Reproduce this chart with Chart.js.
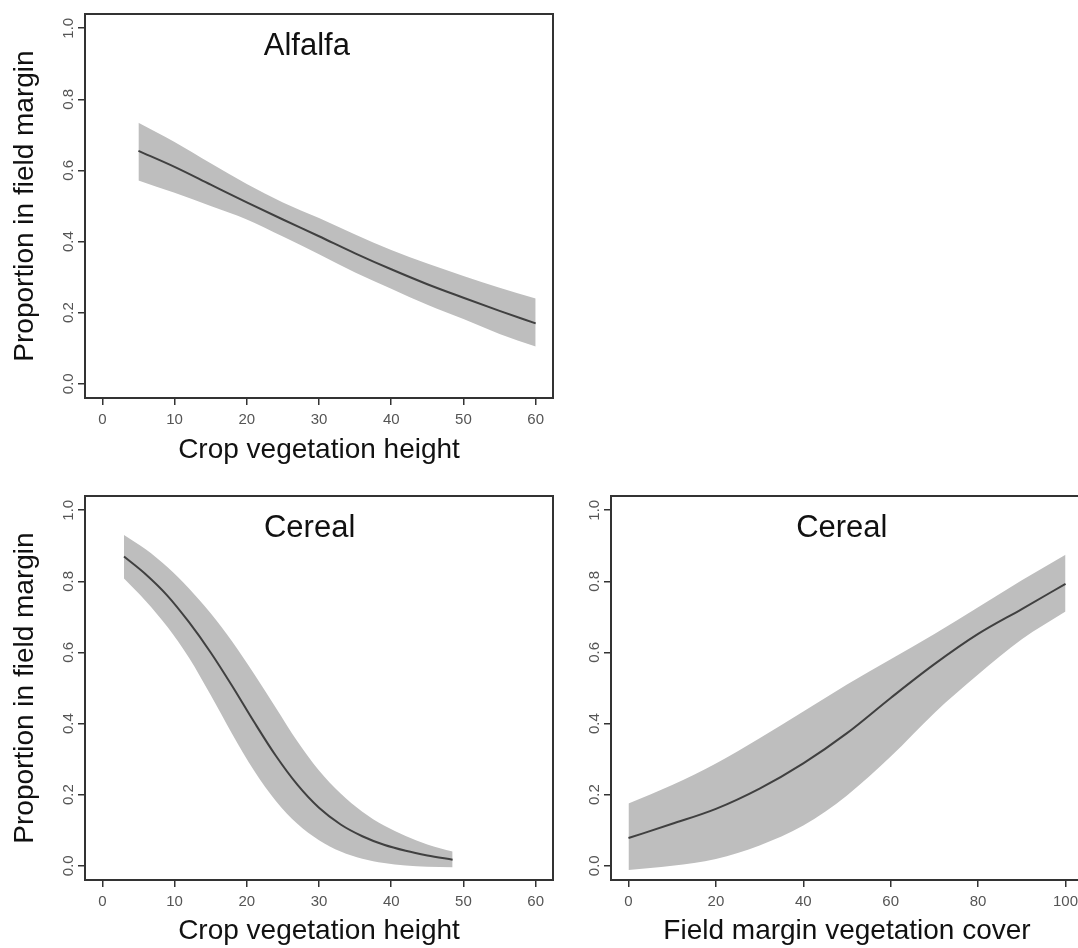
<!DOCTYPE html>
<html>
<head>
<meta charset="utf-8">
<script src="https://cdn.jsdelivr.net/npm/chart.js@4.4.1/dist/chart.umd.min.js"></script>
<style>
  html, body { margin: 0; padding: 0; background: #fff; overflow: hidden; }
  body { width: 1078px; height: 948px; position: relative; }
  canvas { position: absolute; }
</style>
</head>
<body>
<canvas id="alfalfaHeight" width="570" height="475" style="left:0;top:0;"></canvas>
<canvas id="cerealHeight" width="570" height="466" style="left:0;top:482px;"></canvas>
<canvas id="cerealCover" width="540" height="466" style="left:560px;top:482px;"></canvas>
<script>
// Alfalfa: proportion in field margin vs crop vegetation height
const alfalfaX     = [5, 10, 15, 20, 25, 30, 35, 40, 45, 50, 55, 60];
const alfalfaFit   = [0.655, 0.61, 0.56, 0.51, 0.462, 0.415, 0.367, 0.322, 0.28, 0.242, 0.205, 0.17];
const alfalfaUpper = [0.734, 0.68, 0.62, 0.562, 0.51, 0.466, 0.42, 0.376, 0.338, 0.303, 0.27, 0.24];
const alfalfaLower = [0.572, 0.537, 0.5, 0.462, 0.414, 0.364, 0.313, 0.267, 0.222, 0.182, 0.14, 0.105];

// Cereal: proportion in field margin vs crop vegetation height
const cerealX     = [3, 6, 9, 12, 15, 18, 21, 24, 27, 30, 33, 36, 39, 42, 45, 48.5];
const cerealFit   = [0.87, 0.82, 0.76, 0.685, 0.6, 0.505, 0.405, 0.31, 0.228, 0.163, 0.116, 0.083, 0.059, 0.042, 0.029, 0.017];
const cerealUpper = [0.93, 0.89, 0.84, 0.78, 0.71, 0.63, 0.54, 0.445, 0.35, 0.268, 0.203, 0.152, 0.113, 0.084, 0.06, 0.04];
const cerealLower = [0.808, 0.745, 0.672, 0.585, 0.48, 0.37, 0.268, 0.183, 0.118, 0.072, 0.04, 0.02, 0.008, 0.001, -0.003, -0.004];

// Cereal: proportion in field margin vs field margin vegetation cover
const coverX     = [0, 10, 20, 30, 40, 50, 60, 70, 80, 90, 100];
const coverFit   = [0.078, 0.118, 0.16, 0.217, 0.288, 0.373, 0.472, 0.567, 0.652, 0.722, 0.793];
const coverUpper = [0.175, 0.227, 0.288, 0.359, 0.434, 0.51, 0.581, 0.652, 0.727, 0.803, 0.875];
const coverLower = [-0.012, 0.0, 0.019, 0.057, 0.113, 0.198, 0.307, 0.43, 0.538, 0.637, 0.715];

// tick labels
const heightTicks = [0, 10, 20, 30, 40, 50, 60];
const coverTicks = [0, 20, 40, 60, 80, 100];
const proportionTicks = [0, 0.2, 0.4, 0.6, 0.8, 1.0];

Chart.defaults.font.family = "'Liberation Sans', Arial, sans-serif";

const toPoints = (xs, ys) => xs.map((x, i) => ({ x: x, y: ys[i] }));

function makePanel(id, cfg) {
    const ctx = document.getElementById(id).getContext('2d');

    // frame around the plot region plus the panel label inside it
    const framePlugin = {
        id: 'frame_' + id,
        afterDatasetsDraw(chart) {
            const a = chart.chartArea;
            const c = chart.ctx;
            c.save();
            c.strokeStyle = '#333';
            c.lineWidth = 2;
            c.strokeRect(a.left, a.top, a.right - a.left, a.bottom - a.top);
            c.fillStyle = '#111';
            c.font = "31px 'Liberation Sans', Arial, sans-serif";
            c.textAlign = 'center';
            c.textBaseline = 'alphabetic';
            c.fillText(cfg.label, a.left + cfg.labelPos * (a.right - a.left), a.top + 41);
            c.restore();
        }
    };

    const axisGrid = {
        drawOnChartArea: false,
        drawTicks: true,
        tickLength: 7,
        color: '#333',
        lineWidth: 1.5
    };

    return new Chart(ctx, {
        type: 'line',
        data: {
            datasets: [{
                data: toPoints(cfg.x, cfg.fit),
                borderColor: '#404040',
                borderWidth: 2,
                pointRadius: 0,
                fill: false,
                cubicInterpolationMode: 'monotone'
            }, {
                data: toPoints(cfg.x, cfg.upper),
                borderColor: 'rgba(0,0,0,0)',
                borderWidth: 1,
                backgroundColor: '#bebebe',
                pointRadius: 0,
                fill: '+1',
                cubicInterpolationMode: 'monotone'
            }, {
                data: toPoints(cfg.x, cfg.lower),
                borderColor: 'rgba(0,0,0,0)',
                borderWidth: 1,
                pointRadius: 0,
                fill: false,
                cubicInterpolationMode: 'monotone'
            }]
        },
        options: {
            responsive: false,
            animation: false,
            layout: {
                padding: { left: 0, top: 14, right: cfg.padRight, bottom: 0 }
            },
            plugins: {
                legend: { display: false },
                tooltip: { enabled: false }
            },
            scales: {
                x: {
                    type: 'linear',
                    min: cfg.xMin,
                    max: cfg.xMax,
                    afterBuildTicks: s => { s.ticks = cfg.xTicks.map(v => ({ value: v })); },
                    afterFit: s => { s.height = cfg.xAxisHeight; },
                    grid: axisGrid,
                    border: { display: false },
                    ticks: {
                        color: '#555',
                        font: { size: 15 },
                        padding: 6,
                        maxRotation: 0,
                        autoSkip: false
                    },
                    title: {
                        display: true,
                        text: cfg.xTitle,
                        color: '#111',
                        font: { size: 28 },
                        padding: { top: 0, bottom: cfg.xTitlePad }
                    }
                },
                y: {
                    type: 'linear',
                    min: -0.04,
                    max: 1.04,
                    afterBuildTicks: s => { s.ticks = proportionTicks.map(v => ({ value: v })); },
                    afterFit: s => { s.width = cfg.yAxisWidth; },
                    grid: axisGrid,
                    border: { display: false },
                    ticks: {
                        color: '#555',
                        font: { size: 15 },
                        padding: -1,
                        minRotation: 90,
                        maxRotation: 90,
                        crossAlign: 'center',
                        callback: v => v.toFixed(1)
                    },
                    title: {
                        display: !!cfg.yTitle,
                        text: cfg.yTitle || '',
                        color: '#111',
                        font: { size: 28 },
                        padding: { top: 8, bottom: 0 }
                    }
                }
            }
        },
        plugins: [framePlugin]
    });
}

makePanel('alfalfaHeight', {
    x: alfalfaX, fit: alfalfaFit, upper: alfalfaUpper, lower: alfalfaLower,
    xMin: -2.4, xMax: 62.4, xTicks: heightTicks,
    xTitle: 'Crop vegetation height', yTitle: 'Proportion in field margin',
    label: 'Alfalfa', labelPos: 0.474,
    yAxisWidth: 85, xAxisHeight: 77, padRight: 17, xTitlePad: 8
});

makePanel('cerealHeight', {
    x: cerealX, fit: cerealFit, upper: cerealUpper, lower: cerealLower,
    xMin: -2.4, xMax: 62.4, xTicks: heightTicks,
    xTitle: 'Crop vegetation height', yTitle: 'Proportion in field margin',
    label: 'Cereal', labelPos: 0.48,
    yAxisWidth: 85, xAxisHeight: 68, padRight: 17, xTitlePad: 0
});

makePanel('cerealCover', {
    x: coverX, fit: coverFit, upper: coverUpper, lower: coverLower,
    xMin: -4, xMax: 104, xTicks: coverTicks,
    xTitle: 'Field margin vegetation cover', yTitle: null,
    label: 'Cereal', labelPos: 0.489,
    yAxisWidth: 51, xAxisHeight: 68, padRight: 17, xTitlePad: 0
});
</script>
</body>
</html>
